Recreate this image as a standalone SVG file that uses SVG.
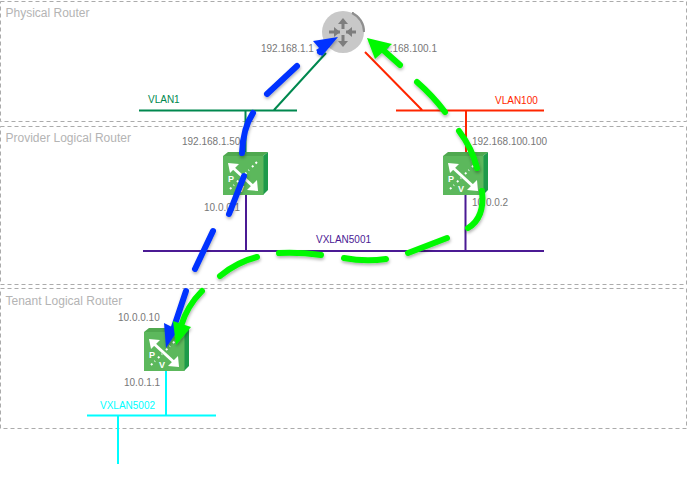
<svg xmlns="http://www.w3.org/2000/svg" width="687" height="489" viewBox="0 0 687 489">
<style>
.zone{fill:none;stroke:#ababab;stroke-width:1;stroke-dasharray:4 3}
.zl{font:12px "Liberation Sans",Arial,sans-serif;fill:#b4b4b4}
.ip{font:10px "Liberation Sans",Arial,sans-serif;fill:#777}
.net{font:10px "Liberation Sans",Arial,sans-serif}
.c{fill:none;stroke-width:2}
.b,.g{fill:none;stroke-width:6;stroke-linecap:round}
.b{stroke:#0433ff}.g{stroke:#00f900}
.bh{fill:#0433ff}.gh{fill:#00f900}
.mk{font:bold 9px "Liberation Sans",Arial,sans-serif;fill:#fff}
</style>
<defs>
<filter id="sh" x="-30%" y="-30%" width="160%" height="160%"><feDropShadow dx="0.5" dy="2" stdDeviation="1.5" flood-color="#000" flood-opacity="0.3"/></filter>
<g id="sw">
<polygon points="0,4 5,0 45,0 40,4" fill="#4fa84f"/>
<polygon points="40,4 45,0 45,38 40,43" fill="#1d9a4a"/>
<rect x="0" y="4" width="40.500" height="39" fill="#5cb85c"/>
<path d="M8 14L32 36" stroke="#fff" stroke-width="3"/>
<polygon points="5,11 16,12 7,21" fill="#fff"/>
<polygon points="35,39 24,38 34,28" fill="#fff"/>
<path d="M7 37L11 33M14 30L18 26M22 22L26 18M29 15L35 9" stroke="#fff" stroke-width="2" stroke-dasharray="2 3"/>
<text x="5" y="30" class="mk">P</text>
<text x="15" y="40" class="mk">V</text>
</g>
</defs>

<g id="zones">
<rect class="zone" x="0.500" y="1.500" width="686" height="120"/>
<rect class="zone" x="0.500" y="126.500" width="686" height="158"/>
<rect class="zone" x="0.500" y="288.500" width="686" height="140"/>
<text class="zl" x="5.500" y="17">Physical Router</text>
<text class="zl" x="5.500" y="142">Provider Logical Router</text>
<text class="zl" x="5.500" y="305">Tenant Logical Router</text>
</g>

<g id="connectors">
<path class="c" stroke="#00884f" d="M139 110.500H297M245.500 110V153M274 110L326 53"/>
<path class="c" stroke="#ff2600" d="M396 110.500H544M365 52L422 110M466 110V153"/>
<path class="c" stroke="#4b1a94" d="M143 251H544M246 195V251M465.500 195V251"/>
<path class="c" stroke="#00fdff" d="M87 415.500H216M166 371V415M118 415V464"/>
</g>

<g id="router">
<circle cx="343" cy="32" r="21" fill="#c8c8c8"/>
<path d="M352 13A21 21 0 0 1 364 32A20 20 0 0 0 352 13Z" fill="#8f8f8f" stroke="#8f8f8f" stroke-width="2"/>
<path d="M343 29V21M343 35V43M340 32H329M346 32H356" stroke="#7d7d7d" stroke-width="3" fill="none"/>
<polygon points="343,18 338,24 348,24" fill="#7d7d7d"/>
<polygon points="343,47 338,41 348,41" fill="#7d7d7d"/>
<polygon points="340,32 334,27 334,37" fill="#7d7d7d"/>
<polygon points="346,32 352,27 352,37" fill="#7d7d7d"/>
</g>
<g id="provider-left"><use href="#sw" x="223" y="152"/></g>
<g id="provider-right"><use href="#sw" x="443" y="152"/></g>
<g id="tenant"><use href="#sw" x="144" y="328"/></g>

<g id="labels">
<text class="ip" x="261" y="52">192.168.1.1</text>
<text class="ip" x="373" y="52">192.168.100.1</text>
<text class="ip" x="182" y="145">192.168.1.50</text>
<text class="ip" x="472" y="145">192.168.100.100</text>
<text class="ip" x="204" y="211">10.0.0.1</text>
<text class="ip" x="472" y="206">10.0.0.2</text>
<text class="ip" x="118" y="321">10.0.0.10</text>
<text class="ip" x="124" y="386">10.0.1.1</text>
<text class="net" x="148" y="103" fill="#00884f">VLAN1</text>
<text class="net" x="495" y="104" fill="#ff2600">VLAN100</text>
<text class="net" x="316" y="243" fill="#4b1a94">VXLAN5001</text>
<text class="net" x="100" y="409" fill="#00fdff">VXLAN5002</text>
</g>

<g id="paths" filter="url(#sh)">
<g id="blue-path">
<path class="b" d="M267 94L297 66"/>
<path class="b" d="M320 52L327 45"/>
<polygon class="bh" points="338,37 313,41 319,48 316,50 322,56"/>
<path class="b" d="M253 113Q243 128 242 153"/>
<path class="b" d="M244 176L229 214"/>
<path class="b" d="M213 231L195 269"/>
<path class="b" d="M186 291L174 327"/>
<polygon class="bh" points="166,348 164,323 178,330"/>
</g>
<g id="green-path">
<path class="g" d="M400 65L382 49"/>
<polygon class="gh" points="367,38 392,44 375,59"/>
<path class="g" d="M417 82Q433 96 445 112"/>
<path class="g" d="M459 131Q472 148 477 168"/>
<path class="g" d="M482 191Q485 218 468 228"/>
<path class="g" d="M447 238L408 253"/>
<path class="g" d="M386 259Q365 262 344 258"/>
<path class="g" d="M321 255Q300 252 279 253"/>
<path class="g" d="M257 257Q237 262 220 276"/>
<path class="g" d="M202 291Q187 306 181 326"/>
<polygon class="gh" points="176,345 173,321 191,327"/>
</g>
</g>
</svg>
